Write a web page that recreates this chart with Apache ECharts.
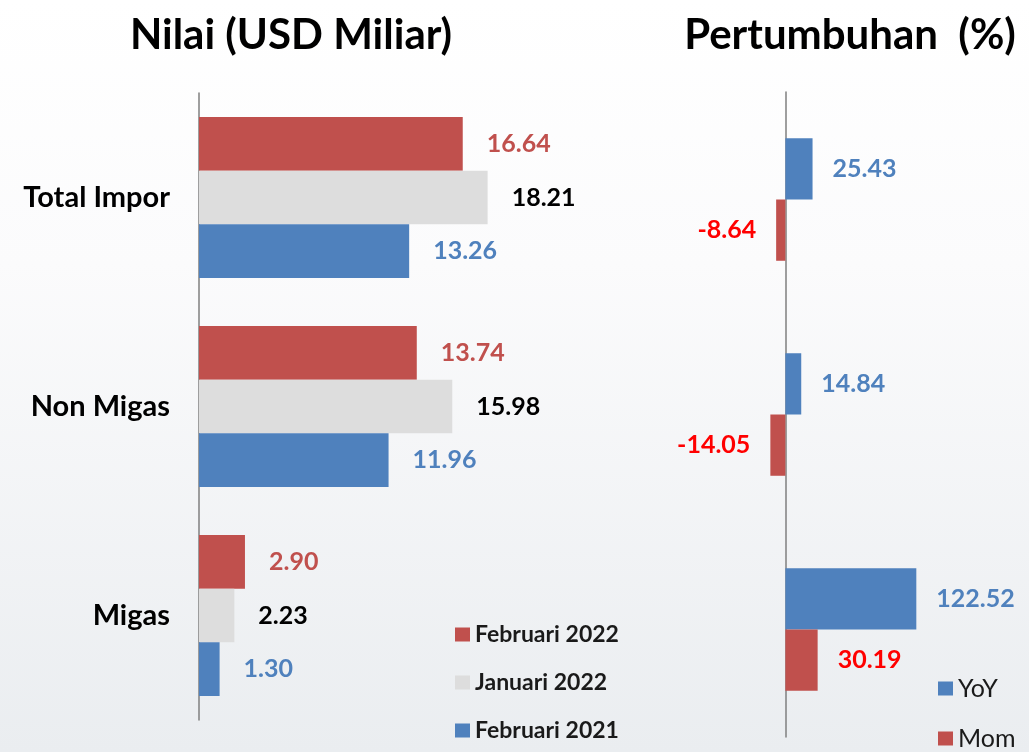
<!DOCTYPE html>
<html>
<head>
<meta charset="utf-8">
<script src="https://cdn.jsdelivr.net/npm/echarts@6/dist/echarts.min.js"></script>
<style>
html,body{margin:0;padding:0;}
#main{width:1029px;height:752px;}
</style>
</head>
<body>
<div id="main"></div>
<script>
// data
var categories = ['Total Impor', 'Non Migas', 'Migas'];
var feb2022 = [16.64, 13.74, 2.90];
var jan2022 = [18.21, 15.98, 2.23];
var feb2021 = [13.26, 11.96, 1.30];
var yoy = [25.43, 14.84, 122.52];
var mom = [-8.64, -14.05, 30.19];

var FONT = 'Lato';

function fmt(p){ return p.value.toFixed(2); }

// negatives get their label on the left side
function signed(arr){
	var out = [];
	for(var i=0;i<arr.length;i++){
		if(arr[i] < 0){
			out.push({value: arr[i], label: {position: 'left'}});
		}else{
			out.push(arr[i]);
		}
	}
	return out;
}

function leftBar(name, data, color, labelColor){
	return {
		name: name,
		type: 'bar',
		xAxisIndex: 0,
		yAxisIndex: 0,
		data: data,
		barGap: '0%',
		barCategoryGap: '23%',
		itemStyle: {color: color},
		label: {
			show: true,
			position: 'right',
			distance: 24,
			formatter: fmt,
			color: labelColor,
			fontFamily: FONT,
			fontWeight: 'bold',
			fontSize: 25
		}
	};
}

function rightBar(name, data, color, labelColor){
	return {
		name: name,
		type: 'bar',
		xAxisIndex: 1,
		yAxisIndex: 1,
		data: signed(data),
		barGap: '0%',
		barCategoryGap: '43%',
		itemStyle: {color: color},
		label: {
			show: true,
			position: 'right',
			distance: 20,
			formatter: fmt,
			color: labelColor,
			fontFamily: FONT,
			fontWeight: 'bold',
			fontSize: 25
		}
	};
}

var myChart = echarts.init(document.getElementById('main'));
myChart.setOption({
	animation: false,
	backgroundColor: {
		type: 'linear', x: 0, y: 0, x2: 0, y2: 1,
		colorStops: [{offset: 0, color: '#ffffff'}, {offset: 0.35, color: '#fbfbfc'}, {offset: 1, color: '#eaedf0'}]
	},
	title: [
		{text: 'Nilai (USD Miliar)', left: 286, top: 9, textAlign: 'center',
		 textStyle: {fontFamily: FONT, fontWeight: 'bold', fontSize: 42, color: '#000'}},
		{text: 'Pertumbuhan  (%)', left: 845, top: 9, textAlign: 'center',
		 textStyle: {fontFamily: FONT, fontWeight: 'bold', fontSize: 42, color: '#000'}}
	],
	legend: [
		{
			orient: 'vertical', left: 455, top: 623, padding: 0, height: 130,
			itemWidth: 15, itemHeight: 14, itemGap: 25, itemStyle: {borderWidth: 0},
			icon: 'rect',
			data: ['Februari 2022', 'Januari 2022', 'Februari 2021'],
			textStyle: {fontFamily: FONT, fontWeight: 'bold', fontSize: 23, color: '#1a1a1a'}
		},
		{
			orient: 'vertical', left: 938, top: 676, padding: 0, height: 90,
			itemWidth: 15, itemHeight: 14, itemGap: 25, itemStyle: {borderWidth: 0},
			icon: 'rect',
			data: ['YoY', 'Mom'],
			textStyle: {fontFamily: FONT, fontSize: 25, color: '#1a1a1a'}
		}
	],
	grid: [
		{left: 199, top: 93, width: 317, height: 627},
		{left: 764, top: 92, width: 171, height: 645}
	],
	xAxis: [
		{type: 'value', gridIndex: 0, min: 0, max: 20, show: false},
		{type: 'value', gridIndex: 1, min: -20, max: 140, show: false}
	],
	yAxis: [
		{
			type: 'category', gridIndex: 0, data: categories, inverse: true,
			axisLine: {show: true, lineStyle: {color: '#7f7f7f', width: 1.5}},
			axisTick: {show: false},
			axisLabel: {margin: 29, color: '#000', fontFamily: FONT, fontWeight: 'bold', fontSize: 29}
		},
		{
			type: 'category', gridIndex: 1, data: categories, inverse: true,
			axisLine: {show: true, onZero: true, lineStyle: {color: '#7f7f7f', width: 1.5}},
			axisTick: {show: false},
			axisLabel: {show: false}
		}
	],
	series: [
		leftBar('Februari 2022', feb2022, '#c0504d', '#c0504d'),
		leftBar('Januari 2022', jan2022, '#dddddd', '#000000'),
		leftBar('Februari 2021', feb2021, '#4f81bd', '#4f81bd'),
		rightBar('YoY', yoy, '#4f81bd', '#4f81bd'),
		rightBar('Mom', mom, '#c0504d', '#ff0000')
	]
});
</script>
</body>
</html>
